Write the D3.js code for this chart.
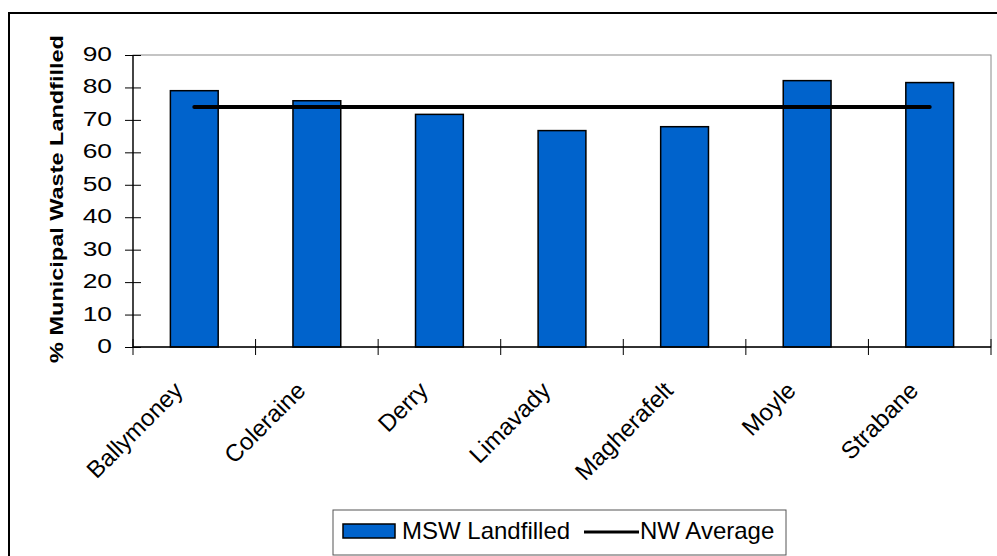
<!DOCTYPE html>
<html>
<head>
<meta charset="utf-8">
<script src="https://cdn.jsdelivr.net/npm/d3@7"></script>
<style>
  html, body { margin: 0; padding: 0; background: #fff; }
  svg { display: block; font-family: Arial, "Liberation Sans", sans-serif; }
</style>
</head>
<body>
<svg id="chart" width="997" height="556"></svg>
<script>
// Councils in the North West waste region
const councils = ["Ballymoney", "Coleraine", "Derry", "Limavady", "Magherafelt", "Moyle", "Strabane"];
// Share of municipal solid waste sent to landfill (%)
const mswLandfilled = [79.0, 75.9, 71.7, 66.7, 67.9, 82.1, 81.5];
// Regional average (%)
const nwAverage = 74.0;
const yTicks = [0, 10, 20, 30, 40, 50, 60, 70, 80, 90];
const legendLabels = ["MSW Landfilled", "NW Average"];
const yTitle = "% Municipal Waste Landfilled";

const svg = d3.select("#chart");
const plot = { left: 133, right: 991, top: 55, bottom: 347 };

// Outer chart frame (runs past the right and bottom of the window)
svg.append("rect")
  .attr("x", 9).attr("y", 13).attr("width", 1000).attr("height", 560)
  .attr("fill", "none").attr("stroke", "#000").attr("stroke-width", 2);

const x = d3.scaleBand().domain(councils).range([plot.left, plot.right]).padding(0);
const y = d3.scaleLinear().domain([0, 90]).range([plot.bottom, plot.top]);
const barW = x.bandwidth() * 0.39;
const mid = c => x(c) + x.bandwidth() / 2;

// Plot area border
svg.append("rect")
  .attr("x", plot.left).attr("y", plot.top)
  .attr("width", plot.right - plot.left).attr("height", plot.bottom - plot.top)
  .attr("fill", "none").attr("stroke", "#8a8a8a").attr("stroke-width", 1);

// Bars
svg.append("g").selectAll("rect")
  .data(councils.map((c, i) => ({ c, v: mswLandfilled[i] })))
  .join("rect")
  .attr("x", d => mid(d.c) - barW / 2)
  .attr("y", d => y(d.v))
  .attr("width", barW)
  .attr("height", d => y(0) - y(d.v))
  .attr("fill", "#0063CC")
  .attr("stroke", "#000")
  .attr("stroke-width", 1.5);

// Average line, centre of first category to centre of last
svg.append("line")
  .attr("x1", mid(councils[0]))
  .attr("x2", mid(councils[councils.length - 1]))
  .attr("y1", y(nwAverage)).attr("y2", y(nwAverage))
  .attr("stroke", "#000").attr("stroke-width", 4).attr("stroke-linecap", "round");

// Y axis (ticks cross the axis line)
const yAxis = d3.axisLeft(y).tickValues(yTicks).tickSize(8).tickFormat("");
const gy = svg.append("g").attr("transform", `translate(${plot.left},0)`).call(yAxis);
gy.select(".domain").attr("stroke", "#000").attr("stroke-width", 1.3).attr("d", `M0,${plot.top}V${plot.bottom}`);
gy.selectAll(".tick line").attr("x1", -8).attr("x2", 8).attr("stroke", "#000");

// Y tick labels, drawn slightly wide
svg.append("g").selectAll("text").data(yTicks).join("text")
  .attr("transform", d => `translate(112,${y(d) + 6}) scale(1.32,1)`)
  .attr("text-anchor", "end")
  .attr("font-size", 20)
  .text(d => d);

// X axis: line and category boundary ticks
svg.append("line")
  .attr("x1", plot.left).attr("x2", plot.right)
  .attr("y1", plot.bottom).attr("y2", plot.bottom)
  .attr("stroke", "#000").attr("stroke-width", 1.3);
const bounds = councils.map(c => x(c)).concat([x(councils[councils.length - 1]) + x.bandwidth()]);
svg.append("g").selectAll("line").data(bounds).join("line")
  .attr("x1", d => d).attr("x2", d => d)
  .attr("y1", plot.bottom - 8).attr("y2", plot.bottom + 8)
  .attr("stroke", "#000").attr("stroke-width", 1);

// Rotated category labels
svg.append("g").selectAll("text").data(councils).join("text")
  .attr("transform", c => `translate(${mid(c) - 10},${plot.bottom + 45}) rotate(-45)`)
  .attr("text-anchor", "end")
  .attr("font-size", 24)
  .text(c => c);

// Y axis title
svg.append("text")
  .attr("transform", `translate(63,199) rotate(-90) scale(1.27,1)`)
  .attr("text-anchor", "middle")
  .attr("font-size", 18.5).attr("font-weight", "bold")
  .text(yTitle);

// Legend
const lg = svg.append("g");
lg.append("rect").attr("x", 333).attr("y", 510).attr("width", 453).attr("height", 45)
  .attr("fill", "#fff").attr("stroke", "#555").attr("stroke-width", 1);
lg.append("rect").attr("x", 343).attr("y", 524).attr("width", 52).attr("height", 14)
  .attr("fill", "#0063CC").attr("stroke", "#000").attr("stroke-width", 1.5);
lg.append("text").attr("x", 402).attr("y", 539).attr("font-size", 24).text(legendLabels[0]);
lg.append("line").attr("x1", 584).attr("x2", 639).attr("y1", 532).attr("y2", 532)
  .attr("stroke", "#000").attr("stroke-width", 3);
lg.append("text").attr("x", 640).attr("y", 539).attr("font-size", 24).text(legendLabels[1]);
</script>
</body>
</html>
